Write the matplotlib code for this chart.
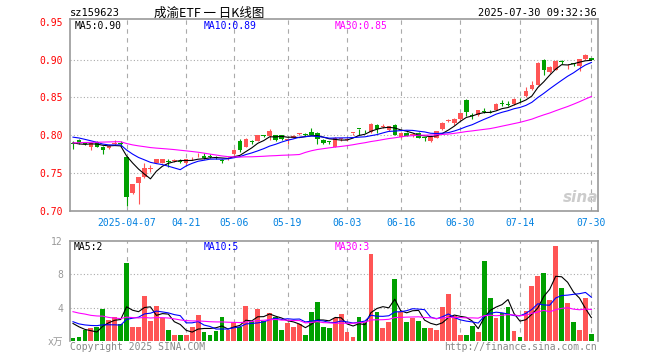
import numpy as np
import matplotlib
matplotlib.use('Agg')
import matplotlib.pyplot as plt

plt.rcParams['font.family'] = ['DejaVu Sans Mono', 'Noto Sans CJK SC']

# daily candles, 2025-03-24 .. 2025-07-30
opens = [0.790, 0.794, 0.790, 0.784, 0.791, 0.785, 0.783, 0.788, 0.789, 0.771,
         0.7234, 0.7366, 0.7455, 0.756, 0.7631, 0.764, 0.766, 0.766, 0.766, 0.763,
         0.768, 0.772, 0.773, 0.772, 0.771, 0.767, 0.768, 0.775, 0.792, 0.7851,
         0.792, 0.793, 0.800, 0.7984, 0.800, 0.800, 0.7935, 0.797, 0.8015, 0.802,
         0.8045, 0.8035, 0.794, 0.792, 0.785, 0.7955, 0.7935, 0.8025, 0.8085, 0.806,
         0.8046, 0.8142, 0.8115, 0.8064, 0.8142, 0.798, 0.803, 0.800, 0.803, 0.797,
         0.792, 0.797, 0.808, 0.819, 0.816, 0.821, 0.847, 0.827, 0.827, 0.832,
         0.831, 0.834, 0.842, 0.841, 0.841, 0.847, 0.852, 0.861, 0.867, 0.900,
         0.8835, 0.8865, 0.897, 0.8935, 0.8945, 0.891, 0.9006, 0.9015]
closes = [0.789, 0.790, 0.788, 0.790, 0.785, 0.781, 0.786, 0.790, 0.788, 0.718,
          0.7353, 0.7455, 0.7565, 0.757, 0.7684, 0.768, 0.765, 0.767, 0.765, 0.768,
          0.769, 0.773, 0.770, 0.771, 0.770, 0.766, 0.770, 0.781, 0.780, 0.7948,
          0.791, 0.800, 0.799, 0.805, 0.794, 0.795, 0.794, 0.7995, 0.802, 0.801,
          0.8005, 0.7945, 0.7896, 0.791, 0.797, 0.796, 0.795, 0.8028, 0.808, 0.805,
          0.8155, 0.8085, 0.812, 0.8116, 0.8005, 0.803, 0.7995, 0.8005, 0.797, 0.796,
          0.798, 0.805, 0.816, 0.8195, 0.822, 0.829, 0.831, 0.826, 0.833, 0.831,
          0.830, 0.841, 0.841, 0.840, 0.848, 0.846, 0.858, 0.867, 0.896, 0.886,
          0.890, 0.8975, 0.8965, 0.894, 0.894, 0.9006, 0.9064, 0.900]
highs = [0.792, 0.795, 0.791, 0.791, 0.792, 0.786, 0.787, 0.794, 0.792, 0.772,
         0.736, 0.7455, 0.7631, 0.761, 0.769, 0.769, 0.768, 0.769, 0.768, 0.769,
         0.771, 0.776, 0.777, 0.775, 0.772, 0.768, 0.771, 0.782, 0.795, 0.796,
         0.794, 0.801, 0.801, 0.8085, 0.801, 0.801, 0.795, 0.800, 0.8035, 0.803,
         0.810, 0.804, 0.795, 0.793, 0.798, 0.797, 0.796, 0.8035, 0.8085, 0.807,
         0.816, 0.815, 0.815, 0.812, 0.815, 0.804, 0.804, 0.803, 0.804, 0.798,
         0.799, 0.806, 0.817, 0.822, 0.823, 0.830, 0.848, 0.829, 0.834, 0.836,
         0.834, 0.842, 0.846, 0.845, 0.849, 0.849, 0.8636, 0.871, 0.897, 0.901,
         0.891, 0.899, 0.899, 0.8945, 0.8955, 0.901, 0.907, 0.902]
lows = [0.782, 0.789, 0.787, 0.781, 0.784, 0.775, 0.782, 0.787, 0.785, 0.706,
        0.722, 0.709, 0.744, 0.752, 0.763, 0.763, 0.758, 0.765, 0.763, 0.762,
        0.767, 0.771, 0.769, 0.770, 0.769, 0.764, 0.767, 0.774, 0.778, 0.784,
        0.789, 0.792, 0.798, 0.794, 0.793, 0.794, 0.789, 0.796, 0.801, 0.799,
        0.800, 0.789, 0.789, 0.789, 0.784, 0.793, 0.792, 0.800, 0.800, 0.803,
        0.803, 0.803, 0.810, 0.806, 0.800, 0.797, 0.799, 0.798, 0.796, 0.793,
        0.791, 0.796, 0.807, 0.817, 0.813, 0.820, 0.825, 0.822, 0.826, 0.829,
        0.829, 0.833, 0.839, 0.838, 0.840, 0.844, 0.851, 0.860, 0.866, 0.880,
        0.882, 0.886, 0.894, 0.8875, 0.892, 0.885, 0.900, 0.8995]
vols = [0.28, 0.40, 1.33, 1.54, 1.7, 3.76, 2.5, 2.8, 2.0, 9.37,
        1.7, 1.6, 5.33, 2.4, 4.24, 2.75, 1.33, 0.73, 0.73, 0.7,
        1.7, 3.15, 1.09, 0.73, 1.13, 2.8, 1.29, 2.3, 1.7, 4.24,
        2.4, 3.76, 2.4, 3.3, 2.9, 1.33, 2.1, 1.7, 2.0, 0.73,
        3.4, 4.7, 1.65, 1.5, 2.75, 3.2, 1.0, 0.4, 2.9, 2.2,
        10.4, 3.5, 1.5, 2.2, 7.4, 3.4, 2.3, 2.75, 2.4, 1.54,
        1.5, 1.33, 4.04, 5.58, 3.0, 0.73, 0.73, 1.8, 1.0, 9.58,
        5.13, 2.75, 3.3, 4.04, 1.2, 0.5, 3.6, 6.6, 7.8, 8.16,
        4.85, 11.4, 6.3, 4.5, 2.2, 1.25, 5.1, 0.8]

# sessions before the window, needed for the moving averages
prior_closes = [0.778, 0.781, 0.784, 0.780, 0.776, 0.779, 0.783, 0.787, 0.790, 0.788,
                0.785, 0.789, 0.792, 0.790, 0.786, 0.784, 0.788, 0.791, 0.793, 0.795,
                0.801, 0.806, 0.809, 0.805, 0.804, 0.797, 0.791, 0.787, 0.786]
prior_vols = [5.5, 4.8, 6.2, 3.9, 4.5, 7.1, 5.2, 3.8, 4.1, 3.3,
              2.9, 3.6, 4.4, 2.7, 3.1, 2.5, 3.8, 4.6, 3.2, 2.8,
              3.0, 2.6, 2.2, 1.9, 2.8, 2.4, 2.9, 2.3, 2.5]

tick_idx = [9, 19, 27, 36, 46, 55, 65, 75, 87]
tick_labels = ['2025-04-07', '04-21', '05-06', '05-19', '06-03', '06-16', '06-30', '07-14', '07-30']


def moving_avg(prior, vals, n):
    allv = np.array(prior + vals)
    return [allv[i - n + 1:i + 1].mean() for i in range(len(prior), len(allv))]


RED = '#ff5555'
GREEN = '#00a000'
GRID = '#aaaaaa'
FRAME = '#999999'

x = np.arange(len(closes))
up = [c >= o for o, c in zip(opens, closes)]
cols = [RED if u else GREEN for u in up]

W, H = 660, 360
fig = plt.figure(figsize=(6.6, 3.6), dpi=100)
ax = fig.add_axes([70 / W, 1 - 211 / H, 528 / W, 192 / H])
axv = fig.add_axes([70 / W, 1 - 340.7 / H, 528 / W, 100 / H])

# candles
ax.vlines(x, lows, highs, colors=cols, lw=0.8, zorder=3)
body_bottom = [min(o, c) for o, c in zip(opens, closes)]
body_h = [max(abs(c - o), 0.0012) for o, c in zip(opens, closes)]
ax.bar(x, body_h, bottom=body_bottom, width=0.75, color=cols, zorder=4)

ax.plot(x, moving_avg(prior_closes, closes, 5), color='black', lw=0.8, zorder=5)
ax.plot(x, moving_avg(prior_closes, closes, 10), color='#0000ff', lw=0.8, zorder=5)
ax.plot(x, moving_avg(prior_closes, closes, 30), color='#ff00ff', lw=0.8, zorder=5)

ax.set_xlim(-0.5, 88.1)
ax.set_ylim(0.70, 0.9535)
ax.set_yticks([0.70, 0.75, 0.80, 0.85, 0.90, 0.95])
ax.set_yticklabels(['0.70', '0.75', '0.80', '0.85', '0.90', '0.95'], color='#ff0000', fontsize=7)
ax.set_xticks(tick_idx)
ax.set_xticklabels(tick_labels, color='#0080e0', fontsize=7)
ax.tick_params(length=0, pad=5)
for yv in [0.75, 0.80, 0.85, 0.90]:
    ax.axhline(yv, color=GRID, lw=0.8, ls=(0, (1, 2)), zorder=1)
for t in tick_idx:
    ax.axvline(t, color=GRID, lw=0.8, ls=(0, (4, 4)), zorder=1)
for s in ax.spines.values():
    s.set_color(FRAME)
    s.set_linewidth(1.2)

# volume
axv.bar(x, vols, width=0.8, color=cols, zorder=3)
axv.plot(x, moving_avg(prior_vols, vols, 5), color='black', lw=0.8, zorder=5)
axv.plot(x, moving_avg(prior_vols, vols, 10), color='#0000ff', lw=0.8, zorder=5)
axv.plot(x, moving_avg(prior_vols, vols, 30), color='#ff00ff', lw=0.8, zorder=5)
axv.set_xlim(-0.5, 88.1)
axv.set_ylim(0, 12.05)
axv.set_yticks([0, 4, 8, 12])
axv.set_yticklabels(['x万', '4', '8', '12'], color=FRAME, fontsize=7)
axv.set_xticks([])
axv.tick_params(length=0, pad=5)
for yv in [4, 8]:
    axv.axhline(yv, color=GRID, lw=0.8, ls=(0, (1, 2)), zorder=1)
for t in tick_idx:
    axv.axvline(t, color=GRID, lw=0.8, ls=(0, (4, 4)), zorder=1)
for k, s in axv.spines.items():
    s.set_color(FRAME)
    s.set_linewidth(1.2)
axv.spines['bottom'].set_visible(False)

# header texts
fig.text(70 / W, 1 - 13 / H, 'sz159623', fontsize=7.5, va='center', ha='left')
fig.text(209 / W, 1 - 13 / H, '成渝ETF 一 日K线图', fontsize=9, va='center', ha='center',
         family=['Noto Sans CJK SC', 'DejaVu Sans'])
fig.text(597 / W, 1 - 13 / H, '2025-07-30 09:32:36', fontsize=7.5, va='center', ha='right')

fig.text(75 / W, 1 - 26 / H, 'MA5:0.90', fontsize=7, va='center', color='black')
fig.text(204 / W, 1 - 26 / H, 'MA10:0.89', fontsize=7, va='center', color='#0000ff')
fig.text(335 / W, 1 - 26 / H, 'MA30:0.85', fontsize=7, va='center', color='#ff00ff')

fig.text(74 / W, 1 - 247 / H, 'MA5:2', fontsize=7, va='center', color='black')
fig.text(204 / W, 1 - 247 / H, 'MA10:5', fontsize=7, va='center', color='#0000ff')
fig.text(335 / W, 1 - 247 / H, 'MA30:3', fontsize=7, va='center', color='#ff00ff')

fig.text(70 / W, 1 - 347 / H, 'Copyright 2025 SINA.COM', fontsize=7, va='center', color='#888888')
fig.text(597 / W, 1 - 347 / H, 'http://finance.sina.com.cn', fontsize=7, va='center', ha='right',
         color='#888888')

# watermark
fig.text(581 / W, 1 - 197 / H, 'sina', fontsize=11, fontweight='bold', style='italic',
         family='DejaVu Sans', color='#cccccc', ha='center', va='center')

fig.savefig('out.png', dpi=100)
